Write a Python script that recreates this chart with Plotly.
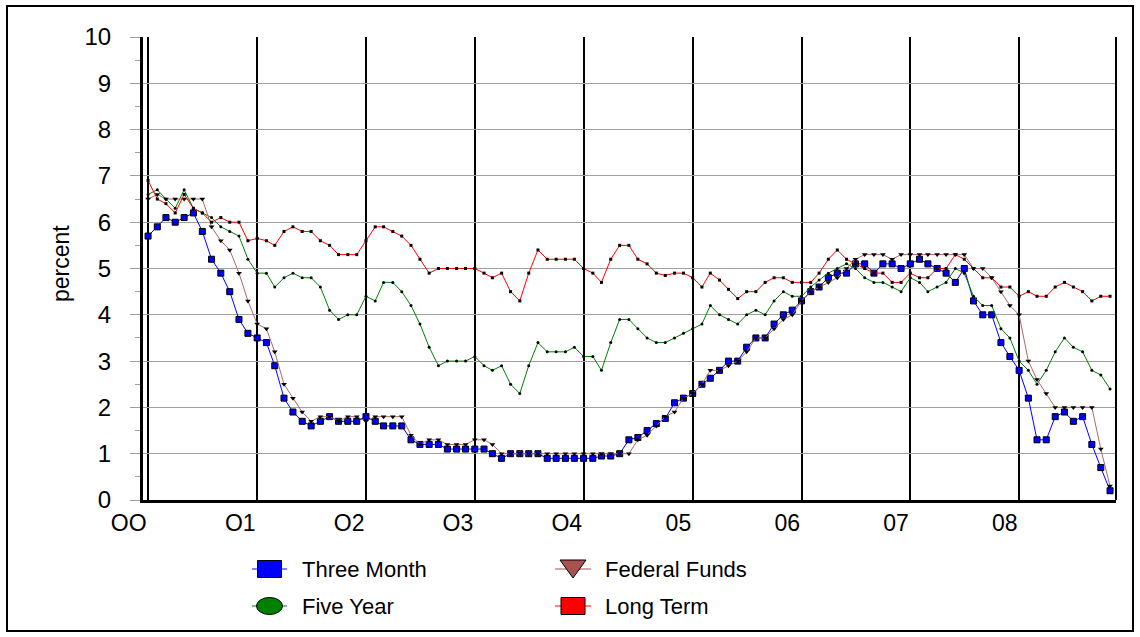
import pandas as pd
import plotly.graph_objects as go

# ---------------- data (monthly, Jan 2000 - Nov 2008) ----------------
months = pd.date_range("2000-01-01", periods=107, freq="MS")

three_month = [5.7, 5.9, 6.1, 6.0, 6.1, 6.2, 5.8, 5.2, 4.9, 4.5, 3.9, 3.6,
               3.5, 3.4, 2.9, 2.2, 1.9, 1.7, 1.6, 1.7, 1.8, 1.7, 1.7, 1.7,
               1.8, 1.7, 1.6, 1.6, 1.6, 1.3, 1.2, 1.2, 1.2, 1.1, 1.1, 1.1,
               1.1, 1.1, 1.0, 0.9, 1.0, 1.0, 1.0, 1.0, 0.9, 0.9, 0.9, 0.9,
               0.9, 0.9, 0.95, 0.95, 1.0, 1.3, 1.35, 1.5, 1.65, 1.76, 2.1, 2.2,
               2.3, 2.5, 2.63, 2.8, 3.0, 3.0, 3.3, 3.5, 3.5, 3.8, 4.0, 4.1,
               4.3, 4.5, 4.6, 4.8, 4.9, 4.9, 5.1, 5.1, 4.9, 5.1, 5.1, 5.0,
               5.1, 5.2, 5.1, 5.0, 4.9, 4.7, 5.0, 4.3, 4.0, 4.0, 3.4, 3.1,
               2.8, 2.2, 1.3, 1.3, 1.8, 1.9, 1.7, 1.8, 1.2, 0.7, 0.2]

federal_funds = [6.5, 6.6, 6.5, 6.5, 6.5, 6.5, 6.5, 5.9, 5.6, 5.4, 4.9, 4.3,
                 3.8, 3.7, 3.2, 2.5, 2.2, 1.9, 1.7, 1.8, 1.8, 1.7, 1.8, 1.8,
                 1.7, 1.8, 1.8, 1.8, 1.8, 1.4, 1.2, 1.3, 1.3, 1.2, 1.2, 1.2,
                 1.3, 1.3, 1.2, 1.0, 1.0, 1.0, 1.0, 1.0, 1.0, 1.0, 1.0, 1.0,
                 1.0, 1.0, 1.0, 1.0, 1.0, 1.0, 1.3, 1.4, 1.6, 1.8, 1.9, 2.2,
                 2.3, 2.5, 2.8, 2.8, 2.9, 3.0, 3.2, 3.5, 3.5, 3.7, 3.9, 4.0,
                 4.3, 4.5, 4.6, 4.7, 4.8, 5.0, 5.2, 5.3, 5.3, 5.3, 5.2, 5.3,
                 5.3, 5.3, 5.3, 5.3, 5.3, 5.3, 5.3, 5.0, 5.0, 4.8, 4.5, 4.2,
                 4.0, 3.0, 2.6, 2.3, 2.0, 2.0, 2.0, 2.0, 2.0, 1.1, 0.3]

five_year = [6.6, 6.7, 6.5, 6.3, 6.7, 6.3, 6.2, 6.1, 5.9, 5.8, 5.7, 5.2,
             4.9, 4.9, 4.6, 4.8, 4.9, 4.8, 4.8, 4.6, 4.1, 3.9, 4.0, 4.0,
             4.4, 4.3, 4.7, 4.7, 4.5, 4.2, 3.8, 3.3, 2.9, 3.0, 3.0, 3.0,
             3.1, 2.9, 2.8, 2.9, 2.5, 2.3, 2.9, 3.4, 3.2, 3.2, 3.2, 3.3,
             3.1, 3.1, 2.8, 3.4, 3.9, 3.9, 3.7, 3.5, 3.4, 3.4, 3.5, 3.6,
             3.7, 3.8, 4.2, 4.0, 3.9, 3.8, 4.0, 4.1, 4.0, 4.3, 4.5, 4.4,
             4.4, 4.6, 4.75, 4.9, 5.0, 5.1, 5.0, 4.8, 4.7, 4.7, 4.6, 4.5,
             4.8, 4.7, 4.5, 4.6, 4.7, 5.0, 4.9, 4.4, 4.2, 4.2, 3.7, 3.5,
             3.0, 2.8, 2.5, 2.8, 3.2, 3.5, 3.3, 3.2, 2.8, 2.7, 2.4]

long_term = [6.9, 6.5, 6.4, 6.2, 6.6, 6.3, 6.2, 6.0, 6.1, 6.0, 6.0, 5.6,
             5.65, 5.6, 5.5, 5.8, 5.9, 5.8, 5.8, 5.6, 5.5, 5.3, 5.3, 5.3,
             5.6, 5.9, 5.9, 5.8, 5.7, 5.5, 5.2, 4.9, 5.0, 5.0, 5.0, 5.0,
             5.0, 4.9, 4.8, 4.9, 4.5, 4.3, 4.9, 5.4, 5.2, 5.2, 5.2, 5.2,
             5.0, 4.9, 4.7, 5.2, 5.5, 5.5, 5.2, 5.1, 4.9, 4.85, 4.9, 4.9,
             4.8, 4.6, 4.9, 4.75, 4.55, 4.35, 4.5, 4.5, 4.7, 4.8, 4.8, 4.7,
             4.7, 4.7, 4.9, 5.2, 5.4, 5.2, 5.1, 5.0, 4.9, 4.9, 4.7, 4.7,
             4.9, 4.8, 4.8, 5.0, 5.0, 5.3, 5.2, 5.0, 4.8, 4.8, 4.6, 4.6,
             4.4, 4.5, 4.4, 4.4, 4.6, 4.7, 4.6, 4.5, 4.3, 4.4, 4.4]

year_ticks = pd.date_range("2000-01-01", periods=9, freq="YS")
year_labels = ["OO", "O1", "O2", "O3", "O4", "05", "06", "07", "08"]
y_ticks = list(range(0, 11))

series_names = ["Three Month", "Five Year", "Federal Funds", "Long Term"]

# ---------------- figure ----------------
TICK_FONT = "Liberation Sans, Arial, sans-serif"
LEG_FONT = "Liberation Sans, Arial, sans-serif"

fig = go.Figure()

fig.add_trace(go.Scatter(
    x=months, y=three_month, name=series_names[0], mode="lines+markers",
    line=dict(color="#0000FF", width=1),
    marker=dict(symbol="square", size=6, color="#0000FF", line=dict(color="black", width=1)),
))
fig.add_trace(go.Scatter(
    x=months, y=five_year, name=series_names[1], mode="lines+markers",
    line=dict(color="#008000", width=1),
    marker=dict(symbol="circle", size=3, color="black"),
))
fig.add_trace(go.Scatter(
    x=months, y=federal_funds, name=series_names[2], mode="lines+markers",
    line=dict(color="#B06666", width=1),
    marker=dict(symbol="triangle-down", size=5, color="black"),
))
fig.add_trace(go.Scatter(
    x=months, y=long_term, name=series_names[3], mode="lines+markers",
    line=dict(color="#FF0000", width=1),
    marker=dict(symbol="square", size=3, color="black"),
))

# plot area in pixels: left 143, right 1116, top 37, bottom 500
L, R, T, B = 143, 1116, 37, 500
W, H = R - L, B - T


def px(xp):
    return (xp - L) / W


def py(yp):
    return (B - yp) / H


shapes = []
annotations = []

# outer frame
shapes.append(dict(type="rect", xref="paper", yref="paper",
                   x0=px(7), x1=px(1133), y0=py(6), y1=py(631),
                   line=dict(color="black", width=2), layer="below"))
# right plot border
shapes.append(dict(type="line", xref="paper", yref="paper",
                   x0=1, x1=1, y0=0, y1=1, line=dict(color="black", width=2)))

# legend (drawn)
legend_items = [
    (series_names[0], "#0000FF", "rect", 252, 287, 569, 300),
    (series_names[1], "#008000", "ellipse", 252, 287, 606, 300),
    (series_names[2], "#A8534F", "triangle", 555, 591, 569, 603),
    (series_names[3], "#FF0000", "rect", 555, 591, 606, 603),
]
for name, color, kind, lx0, lx1, ly, tx in legend_items:
    shapes.append(dict(type="line", xref="paper", yref="paper",
                       x0=px(lx0), x1=px(lx1), y0=py(ly), y1=py(ly),
                       line=dict(color=color, width=1)))
    cx = (lx0 + lx1) / 2
    if kind == "rect":
        shapes.append(dict(type="rect", xref="paper", yref="paper",
                           x0=px(cx - 12), x1=px(cx + 12), y0=py(ly + 8.5), y1=py(ly - 8.5),
                           fillcolor=color, line=dict(color="black", width=1)))
    elif kind == "ellipse":
        shapes.append(dict(type="circle", xref="paper", yref="paper",
                           x0=px(cx - 13), x1=px(cx + 13), y0=py(ly + 8.5), y1=py(ly - 8.5),
                           fillcolor=color, line=dict(color="black", width=1)))
    else:
        path = "M {} {} L {} {} L {} {} Z".format(
            px(cx - 13), py(ly - 9), px(cx + 13), py(ly - 9), px(cx), py(ly + 9))
        shapes.append(dict(type="path", xref="paper", yref="paper", path=path,
                           fillcolor=color, line=dict(color="black", width=1)))
    annotations.append(dict(xref="paper", yref="paper", x=px(tx), y=py(ly),
                            xanchor="left", yanchor="middle", showarrow=False,
                            text=name, font=dict(family=LEG_FONT, size=22, color="black")))

# y-axis title
annotations.append(dict(xref="paper", yref="paper", x=px(61), y=py(264),
                        xanchor="center", yanchor="middle", showarrow=False, textangle=-90,
                        text="percent", font=dict(family=LEG_FONT, size=23, color="black")))

fig.update_layout(
    width=1140, height=637,
    margin=dict(l=L, r=1140 - R, t=T, b=637 - B, pad=0),
    paper_bgcolor="white", plot_bgcolor="white",
    showlegend=False,
    shapes=shapes, annotations=annotations,
    font=dict(family=TICK_FONT, color="black"),
)

fig.update_xaxes(
    type="date",
    range=["1999-12-15", "2008-11-21"],
    tickmode="array", tickvals=year_ticks, ticktext=year_labels,
    ticklabelposition="outside left",
    ticks="", showgrid=True, gridcolor="black", gridwidth=2,
    showline=True, linecolor="black", linewidth=3,
    zeroline=False, tickfont=dict(family=TICK_FONT, size=23, color="black"),
    ticklabelstandoff=0,
)
fig.update_yaxes(
    range=[0, 10], tickmode="array", tickvals=y_ticks,
    ticks="outside", ticklen=10, tickcolor="#A0A0A0", tickwidth=1,
    minor=dict(dtick=0.5, ticks="outside", ticklen=5, tickcolor="#A0A0A0", showgrid=False),
    showgrid=True, gridcolor="#A0A0A0", gridwidth=1,
    showline=True, linecolor="black", linewidth=3,
    zeroline=False, tickfont=dict(family=TICK_FONT, size=24, color="black"),
    ticklabelstandoff=14,
)

fig.write_html("out.html", config={"displayModeBar": False},
               post_script="document.body.style.margin='0';")
